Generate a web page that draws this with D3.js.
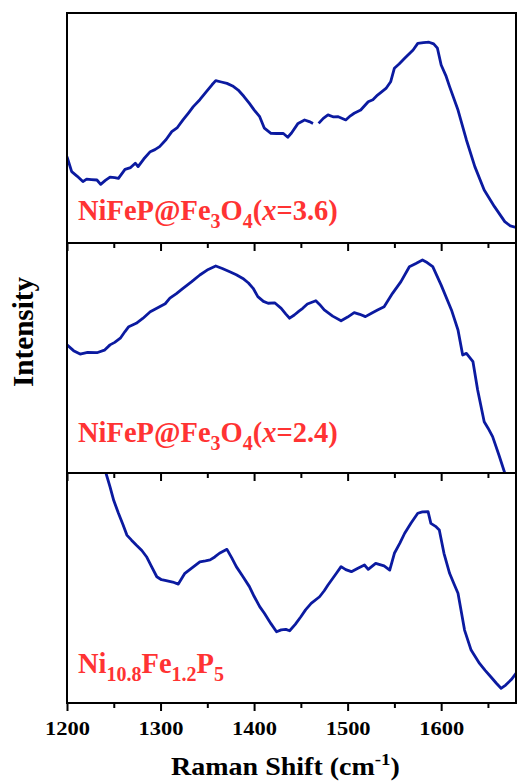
<!DOCTYPE html>
<html>
<head>
<meta charset="utf-8">
<script src="https://cdn.jsdelivr.net/npm/d3@7"></script>
<style>
  html, body { margin: 0; padding: 0; background: #fff; }
  svg { display: block; }
  text { font-family: "Liberation Serif", "Times New Roman", serif; font-weight: bold; }
</style>
</head>
<body>
<svg id="chart" width="517" height="782"></svg>
<script>
// Raman spectra, three stacked panels sharing one wavenumber axis
const majorTicks = [1200, 1300, 1400, 1500, 1600];
const minorTicks = [1250, 1350, 1450, 1550, 1650];

// NiFeP@Fe3O4 (x=3.6) — null marks a short gap in the record
const shiftA = [1200, 1205, 1211, 1217, 1221, 1226, 1232, 1236, 1241, 1246, 1251, 1255, 1262, 1268, 1273, 1276, 1282, 1289, 1294, 1299, 1306, 1312, 1318, 1324, 1330, 1335, 1342, 1349, 1355, 1359, 1365, 1371, 1377, 1383, 1389, 1395, 1400, 1406, 1411, 1418, 1424, 1431, 1436, 1440, 1447, 1454, 1459, 1463, 1466, 1469, 1474, 1479, 1485, 1490, 1498, 1503, 1507, 1514, 1522, 1527, 1532, 1541, 1546, 1550, 1555, 1561, 1570, 1575, 1581, 1587, 1592, 1596, 1600, 1605, 1609, 1618, 1627, 1636, 1646, 1657, 1668, 1674, 1680];
const intA = [37.5, 31, 29, 26.7, 27.8, 27.6, 27.4, 25.5, 27.2, 28.6, 28.4, 28.1, 32, 32.8, 34.7, 33.2, 36.5, 39.7, 40.6, 41.9, 45, 48.4, 50.2, 53.5, 56.6, 59.3, 62.3, 65.8, 68.8, 70.6, 70, 69.4, 68.3, 66.5, 63.8, 60.7, 57.9, 54.9, 49.9, 47.7, 47.6, 47.7, 46, 47.8, 52, 53.5, 52.8, 52, null, 52, 54.2, 55.7, 54.8, 54.9, 53.5, 55.3, 56.4, 57.8, 61.4, 62.3, 64.3, 67.2, 70.1, 76, 77.8, 80.3, 83.9, 86.8, 87.1, 87.3, 86.6, 84.7, 77.4, 72.8, 68, 57.8, 44.8, 33.2, 23, 15.8, 9.3, 7.4, 6.8];

// NiFeP@Fe3O4 (x=2.4)
const shiftB = [1200, 1207, 1214, 1222, 1232, 1240, 1246, 1251, 1257, 1262, 1266, 1274, 1281, 1289, 1299, 1305, 1310, 1317, 1324, 1333, 1342, 1351, 1359, 1366, 1374, 1381, 1388, 1394, 1399, 1404, 1410, 1415, 1422, 1429, 1434, 1438, 1443, 1448, 1452, 1457, 1466, 1470, 1475, 1484, 1493, 1500, 1507, 1513, 1519, 1526, 1532, 1539, 1548, 1557, 1566, 1573, 1580, 1585, 1591, 1600, 1611, 1618, 1623, 1627, 1634, 1639, 1646, 1650, 1655, 1662, 1668, 1672];
const intB = [55.7, 53.2, 51.7, 52.4, 52.3, 53.4, 55.7, 56.8, 58.6, 61.5, 63.6, 65.1, 67.2, 70.1, 72.3, 73.6, 76, 78, 80.3, 83.1, 86.1, 88.5, 90, 88.9, 87.5, 86.2, 84.6, 82.6, 80.3, 76.7, 74.6, 73.8, 74, 71.6, 69.1, 67.3, 68.7, 70.4, 71.6, 73.5, 74.9, 73.3, 70.9, 68.2, 66.2, 67.8, 69.7, 69, 68, 69.6, 70.9, 72.3, 78.1, 83.2, 89.7, 91.1, 92.6, 91.5, 89.7, 81.7, 70.9, 62.2, 51.3, 52, 48.4, 36.1, 22.3, 19.6, 15.8, 7.5, 0, -5];

// Ni10.8Fe1.2P5
const shiftC = [1236, 1241.7, 1246, 1250, 1255, 1260, 1264, 1269, 1274, 1280, 1285, 1290, 1296, 1301, 1306, 1313, 1319, 1326, 1334, 1342, 1348, 1353, 1358, 1363, 1371, 1376, 1381, 1388, 1395, 1400, 1406, 1411, 1418, 1424, 1429, 1434, 1438, 1444, 1450, 1455, 1461, 1470, 1475, 1479, 1488, 1493, 1498, 1504, 1511, 1518, 1522, 1526, 1530, 1539, 1545, 1550, 1556, 1561, 1568, 1575, 1580, 1586, 1589, 1594, 1598, 1603, 1609, 1614, 1618, 1625, 1632, 1641, 1647, 1653, 1659, 1664, 1669, 1675, 1680];
const intC = [115, 99.9, 94, 88, 82.5, 77.4, 73, 70.8, 68.7, 66.3, 63.6, 59.6, 54.9, 53.6, 53.2, 52.6, 51.7, 56.4, 58.9, 61.4, 61.8, 62.2, 63.5, 65.1, 66.8, 63.2, 59.3, 55, 50.6, 46.4, 41.9, 39, 34.5, 31, 31.8, 32, 31.4, 34.2, 37.5, 40.5, 43.3, 46.2, 48.8, 51.3, 56.4, 59.3, 58, 57.1, 58.6, 60, 58.1, 59.4, 60.7, 59.6, 57.8, 65.1, 69.6, 73.8, 78.4, 82.5, 83.1, 83.2, 78.1, 76.8, 75.2, 65.1, 56.4, 51.5, 47.7, 31.7, 23, 17.2, 14.2, 11.4, 8.6, 6.4, 7.8, 10.2, 12.9];

// label pieces: 0 = normal, 1 = subscript, 2 = italic
const panels = [
  { shift: shiftA, intensity: intA, label: [["NiFeP@Fe", 0], ["3", 1], ["O", 0], ["4", 1], ["(", 0], ["x", 2], ["=3.6)", 0]] },
  { shift: shiftB, intensity: intB, label: [["NiFeP@Fe", 0], ["3", 1], ["O", 0], ["4", 1], ["(", 0], ["x", 2], ["=2.4)", 0]] },
  { shift: shiftC, intensity: intC, label: [["Ni", 0], ["10.8", 1], ["Fe", 0], ["1.2", 1], ["P", 0], ["5", 1]] }
];

const svg = d3.select("#chart");
const plotLeft = 67, plotRight = 516, plotTop = 13, panelH = 230;
const lineColor = "#0b1aa0";
const labelColor = "#ff3333";
const labelBaselines = [220, 442, 673];

const x = d3.scaleLinear().domain([1200, 1680]).range([plotLeft, plotRight]);

panels.forEach((p, i) => {
  const y0 = plotTop + i * panelH, y1 = y0 + panelH;
  const y = d3.scaleLinear().domain([0, 100]).range([y1, y0]);

  svg.append("clipPath").attr("id", "clip" + i)
    .append("rect").attr("x", plotLeft).attr("y", y0).attr("width", plotRight - plotLeft).attr("height", panelH);

  const pts = p.shift.map((s, k) => ({ s, v: p.intensity[k] }));
  const line = d3.line()
    .defined(d => d.v != null)
    .x(d => x(d.s)).y(d => y(d.v));

  svg.append("path")
    .attr("clip-path", `url(#clip${i})`)
    .attr("d", line(pts))
    .attr("fill", "none")
    .attr("stroke", lineColor)
    .attr("stroke-width", 2.8)
    .attr("stroke-linejoin", "round");

  // sample label with subscripts / italic x
  const lab = svg.append("text")
    .attr("x", 78).attr("y", labelBaselines[i])
    .attr("fill", labelColor)
    .attr("font-size", 28.5);
  let prev = 0;
  p.label.forEach(([t, kind]) => {
    const ts = lab.append("tspan").text(t);
    if (kind === 1) ts.attr("font-size", 20).attr("dy", prev === 1 ? 0 : 8);
    else {
      ts.attr("dy", prev === 1 ? -8 : 0);
      if (kind === 2) ts.attr("font-style", "italic");
    }
    prev = kind;
  });

  // x axis along the bottom of each panel
  const axis = d3.axisBottom(x).tickValues(majorTicks).tickSize(8).tickPadding(6)
    .tickFormat(i === 2 ? d3.format("d") : () => "");
  const g = svg.append("g").attr("transform", `translate(0, ${y1})`).call(axis);
  g.select(".domain").remove();
  g.selectAll(".tick line").attr("stroke", "#000").attr("stroke-width", 2);
  g.selectAll(".tick text")
    .attr("fill", "#000").attr("font-size", 22.5)
    .attr("font-family", "Liberation Serif, Times New Roman, serif")
    .attr("font-weight", "bold")
    .attr("y", 0).attr("dy", 0)
    .attr("transform", "translate(0, 32) scale(1, 0.88)");

  const gm = svg.append("g").attr("transform", `translate(0, ${y1})`)
    .call(d3.axisBottom(x).tickValues(minorTicks).tickSize(5).tickFormat(() => ""));
  gm.select(".domain").remove();
  gm.selectAll(".tick line").attr("stroke", "#000").attr("stroke-width", 2);

  if (i > 0) {
    svg.append("line").attr("x1", plotLeft).attr("x2", plotRight).attr("y1", y0).attr("y2", y0)
      .attr("stroke", "#000").attr("stroke-width", 2);
  }
});

// outer frame
svg.append("rect")
  .attr("x", plotLeft).attr("y", plotTop)
  .attr("width", plotRight - plotLeft).attr("height", panelH * 3)
  .attr("fill", "none").attr("stroke", "#000").attr("stroke-width", 2);

// axis titles
const xt = svg.append("text")
  .attr("transform", `translate(${(plotLeft + plotRight) / 2 - 6}, 775) scale(1, 0.87)`)
  .attr("text-anchor", "middle").attr("font-size", 28).attr("fill", "#000");
xt.append("tspan").text("Raman Shift (cm");
xt.append("tspan").text("-1").attr("font-size", 19).attr("dy", -12);
xt.append("tspan").text(")").attr("dy", 12);

svg.append("text")
  .attr("transform", "translate(33, 332) rotate(-90) scale(0.97, 1)")
  .attr("text-anchor", "middle").attr("font-size", 30).attr("fill", "#000")
  .text("Intensity");
</script>
</body>
</html>
